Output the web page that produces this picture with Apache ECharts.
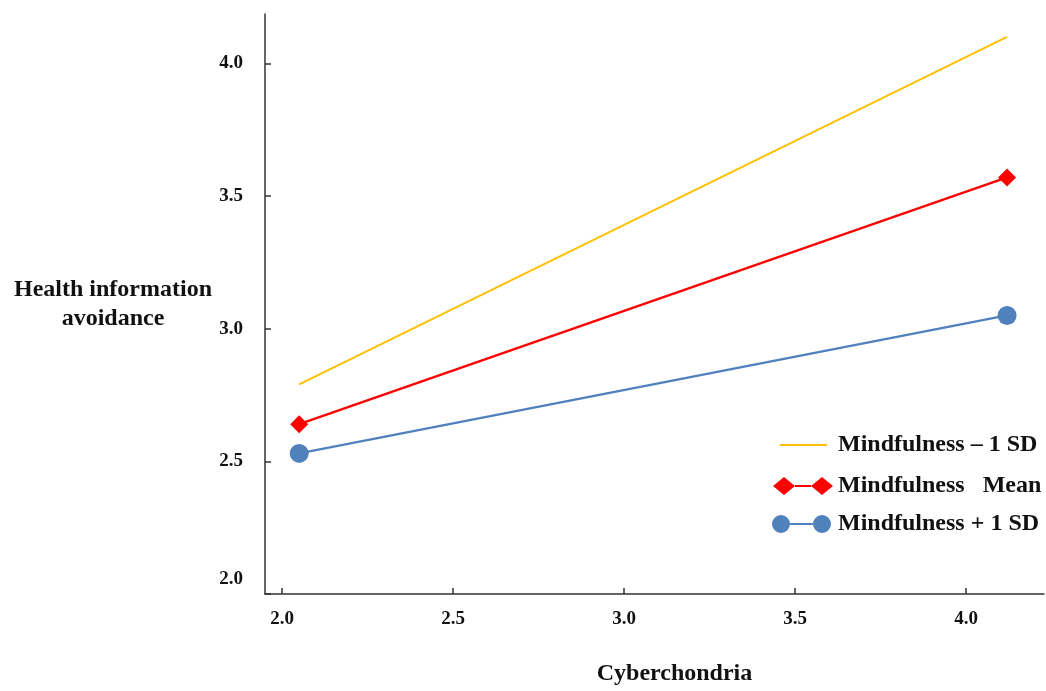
<!DOCTYPE html>
<html><head><meta charset="utf-8">
<script src="https://cdn.jsdelivr.net/npm/echarts@6/dist/echarts.min.js"></script>
<style>html,body{margin:0;padding:0;background:#fff}#c{width:1046px;height:691px}</style>
</head><body><div id="c"></div>
<script>
var xValues = [2.05, 4.12];
var lowSD = [2.79, 4.10];
var meanVals = [2.64, 3.57];
var highSD = [2.53, 3.05];
var seriesNames = ['Mindfulness \u2013 1 SD', 'Mindfulness   Mean', 'Mindfulness + 1 SD'];
var tickValues = [2.0, 2.5, 3.0, 3.5, 4.0];
var xTitle = 'Cyberchondria';
var yTitle = 'Health information\navoidance';

var FONT = '"Liberation Serif", "Times New Roman", serif';
var C_Y = '#ffc000', C_R = '#ff0000', C_B = '#4f81bd';
function pairs(ys){ return xValues.map(function(x,i){ return [x, ys[i]]; }); }

var diamondIcon = 'path://M0 9L11 0L22 9L11 18Z M38 9L49 0L60 9L49 18Z M22 8L38 8L38 10L22 10Z';
var circleIcon = 'path://M0 9A9 9 0 1 1 18 9A9 9 0 1 1 0 9Z M41 9A9 9 0 1 1 59 9A9 9 0 1 1 41 9Z M18 8L41 8L41 10L18 10Z';
var legText = {fontFamily: FONT, fontWeight: 'bold', fontSize: 24, color: '#111'};
var tickFont = {fontFamily: FONT, fontWeight: 'bold', fontSize: 19, color: '#111'};

var chart = echarts.init(document.getElementById('c'));
chart.setOption({
  animation: false,
  grid: {left: 265, right: 2, top: 14, bottom: 83},
  xAxis: {
    type: 'value', min: 1.95, max: 4.228,
    name: xTitle, nameLocation: 'middle', nameGap: 68,
    nameTextStyle: {fontFamily: FONT, fontWeight: 'bold', fontSize: 24, color: '#111', verticalAlign: 'top', padding: [0,0,0,40]},
    splitLine: {show: false},
    axisLine: {onZero: false, lineStyle: {color: '#333', width: 1.5}},
    axisTick: {inside: true, length: 6, customValues: tickValues, lineStyle: {color: '#333', width: 1.5}},
    axisLabel: Object.assign({customValues: tickValues, margin: 16,
      formatter: function(v){ return v.toFixed(1); }}, tickFont)
  },
  yAxis: {
    type: 'value', min: 2.0, max: 4.186,
    name: yTitle, nameLocation: 'middle', nameGap: 152, nameRotate: 0,
    nameTextStyle: {fontFamily: FONT, fontWeight: 'bold', fontSize: 24, color: '#111', align: 'center', lineHeight: 29, padding: [0,0,38,0]},
    splitLine: {show: false},
    axisLine: {onZero: false, lineStyle: {color: '#333', width: 1.5}},
    axisTick: {inside: true, length: 6, customValues: tickValues, lineStyle: {color: '#333', width: 1.5}},
    axisLabel: Object.assign({customValues: tickValues, margin: 22,
      formatter: function(v){ return v === 2 ? '{lo|2.0}' : v.toFixed(1); },
      rich: {lo: {fontFamily: FONT, fontWeight: 'bold', fontSize: 19, color: '#111', padding: [0,0,30,0]}}}, tickFont)
  },
  legend: [
    {data: [{name: seriesNames[0], icon: 'rect'}], left: 775, top: 428, itemWidth: 47, itemHeight: 2,
     textStyle: Object.assign({padding: [0,0,0,6]}, legText)},
    {data: [{name: seriesNames[1], icon: diamondIcon}], left: 768, top: 469, itemWidth: 60, itemHeight: 18,
     textStyle: Object.assign({padding: [0,0,0,0]}, legText)},
    {data: [{name: seriesNames[2], icon: circleIcon}], left: 767, top: 507, itemWidth: 59, itemHeight: 18,
     textStyle: Object.assign({padding: [0,0,0,2]}, legText)}
  ],
  series: [
    {name: seriesNames[0], type: 'line', data: pairs(lowSD), showSymbol: false, symbol: 'none',
     lineStyle: {color: C_Y, width: 2}, itemStyle: {color: C_Y}},
    {name: seriesNames[1], type: 'line', data: pairs(meanVals), symbol: 'diamond', symbolSize: 18,
     lineStyle: {color: C_R, width: 2.3}, itemStyle: {color: C_R}},
    {name: seriesNames[2], type: 'line', data: pairs(highSD), symbol: 'circle', symbolSize: 19,
     lineStyle: {color: C_B, width: 2.3}, itemStyle: {color: C_B}}
  ]
});
</script></body></html>
